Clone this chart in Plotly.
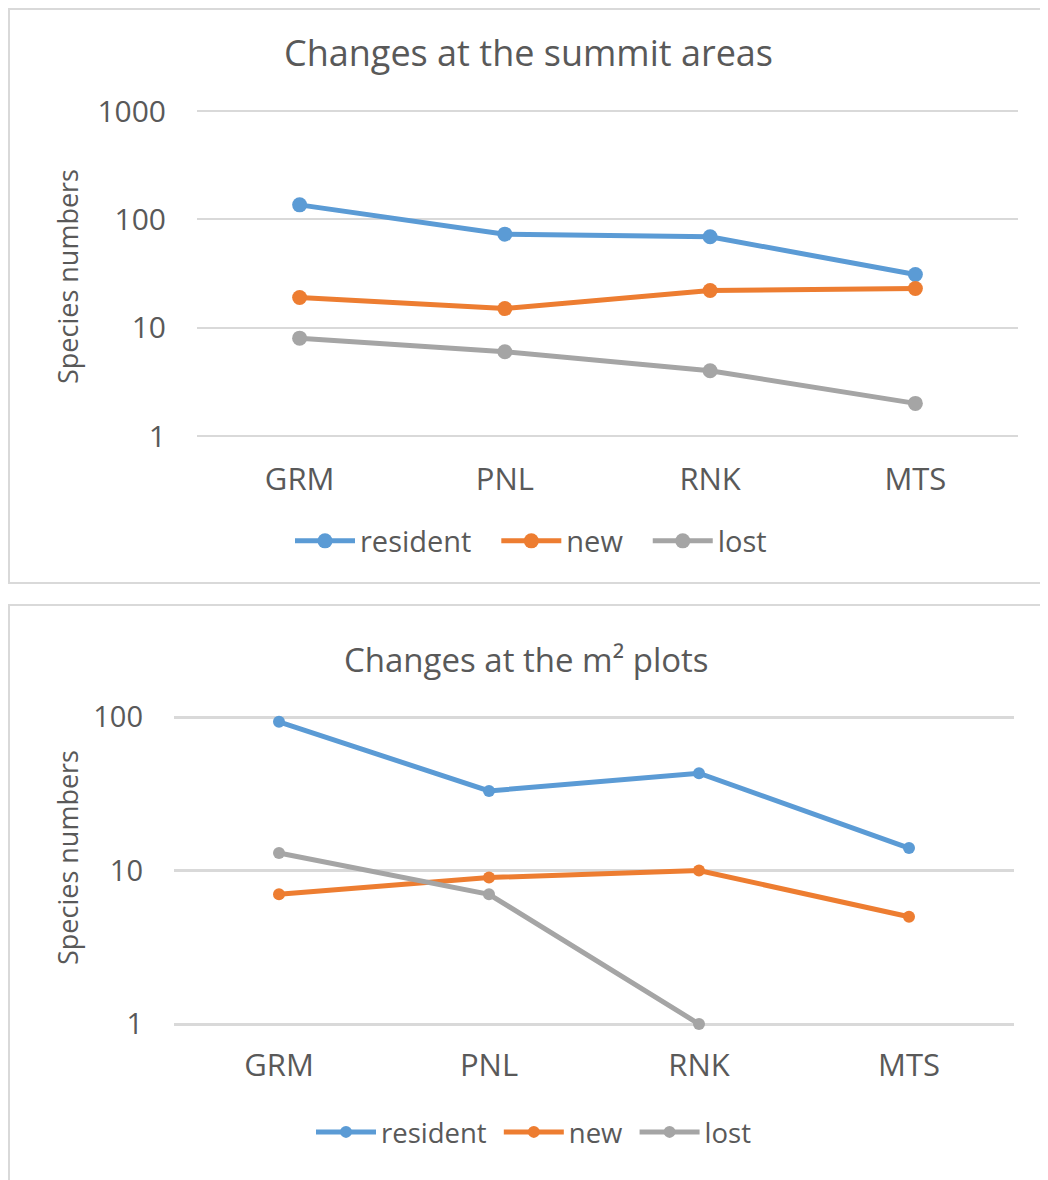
import plotly.graph_objects as go

sites = ["GRM", "PNL", "RNK", "MTS"]
series_names = ["resident", "new", "lost"]
colors = ["#5B9BD5", "#ED7D31", "#A5A5A5"]

summit_resident = [136, 73, 69, 31]
summit_new = [19, 15, 22, 23]
summit_lost = [8, 6, 4, 2]

m2_resident = [93, 33, 43, 14]
m2_new = [7, 9, 10, 5]
m2_lost = [13, 7, 1, None]

OFF = 8  # page body margin
W, H = 1040, 1172
FONT = "Open Sans"
TXT = "#595959"

def px(x):
    return (x - OFF) / W

def py(y):
    return 1 - (y - OFF) / H

fig = go.Figure()

top_vals = [summit_resident, summit_new, summit_lost]
bot_vals = [m2_resident, m2_new, m2_lost]
top_pad = ["\u00a0\u00a0\u2009", "\u00a0\u00a0\u2009", ""]
bot_pad = ["\u00a0", "\u00a0", ""]

for name, col, vals, pad in zip(series_names, colors, top_vals, top_pad):
    fig.add_trace(go.Scatter(x=sites, y=vals, name=name + pad, mode="lines+markers",
                             line=dict(color=col, width=5),
                             marker=dict(color=col, size=15),
                             cliponaxis=False,
                             xaxis="x", yaxis="y", legend="legend"))
for name, col, vals, pad in zip(series_names, colors, bot_vals, bot_pad):
    fig.add_trace(go.Scatter(x=sites, y=vals, name=name + pad, mode="lines+markers",
                             line=dict(color=col, width=5),
                             marker=dict(color=col, size=12),
                             cliponaxis=False,
                             xaxis="x2", yaxis="y2", legend="legend2"))

E = 0.025
# top plot: log 0 at y=436, log 3 at y=111
k1 = (436 - 111) / 3
# bottom plot: log 0 at y=1024, log 2 at y=717
k2 = (1024 - 717) / 2

fig.update_layout(
    width=W, height=H,
    margin=dict(l=0, r=0, t=0, b=0, autoexpand=False),
    paper_bgcolor="white", plot_bgcolor="white",
    showlegend=True,
    xaxis=dict(domain=[px(197), px(1018)], anchor="y", range=[-0.5, 3.5],
               showgrid=False, showline=False, zeroline=False, ticks="",
               tickfont=dict(family=FONT, size=31, color=TXT),
               ticklabelstandoff=int(round(22 - E * k1))),
    yaxis=dict(domain=[py(436 + E * k1), py(111 - E * k1)], anchor="x", type="log",
               range=[-E, 3 + E],
               tickvals=[1, 10, 100, 1000], ticktext=["1", "10", "100", "1000"],
               showgrid=True, gridcolor="#D9D9D9", gridwidth=1.5, zeroline=False,
               showline=False, ticks="", tickfont=dict(family=FONT, size=30, color=TXT),
               ticklabelstandoff=30),
    xaxis2=dict(domain=[px(174), px(1014)], anchor="y2", range=[-0.5, 3.5],
                showgrid=False, showline=False, zeroline=False, ticks="",
                tickfont=dict(family=FONT, size=31, color=TXT),
                ticklabelstandoff=int(round(20 - E * k2))),
    yaxis2=dict(domain=[py(1024 + E * k2), py(717 - E * k2)], anchor="x2", type="log",
                range=[-E, 2 + E],
                tickvals=[1, 10, 100], ticktext=["1", "10", "100"],
                showgrid=True, gridcolor="#D9D9D9", gridwidth=2.5, zeroline=False,
                showline=False, ticks="", tickfont=dict(family=FONT, size=29, color=TXT),
                ticklabelstandoff=30),
    legend=dict(orientation="h", x=px(531), y=py(541), xanchor="center", yanchor="middle",
                font=dict(family=FONT, size=29, color=TXT), itemwidth=60,
                bgcolor="rgba(0,0,0,0)"),
    legend2=dict(orientation="h", x=px(534), y=py(1132), xanchor="center", yanchor="middle",
                 font=dict(family=FONT, size=27.5, color=TXT), itemwidth=60,
                 bgcolor="rgba(0,0,0,0)"),
    shapes=[
        dict(type="rect", xref="paper", yref="paper", x0=px(9), x1=px(1045), y0=py(583), y1=py(9),
             line=dict(color="#D9D9D9", width=2), fillcolor="rgba(0,0,0,0)", layer="below"),
        dict(type="rect", xref="paper", yref="paper", x0=px(9), x1=px(1045), y0=py(1190), y1=py(605),
             line=dict(color="#D9D9D9", width=2), fillcolor="rgba(0,0,0,0)", layer="below"),
    ],
    annotations=[
        dict(text="Changes at the summit areas", x=px(528), y=py(52), xref="paper", yref="paper",
             showarrow=False, xanchor="center", yanchor="middle",
             font=dict(family=FONT, size=36, color=TXT)),
        dict(text="Changes at the m² plots", x=px(526), y=py(660), xref="paper", yref="paper",
             showarrow=False, xanchor="center", yanchor="middle",
             font=dict(family=FONT, size=33, color=TXT)),
        dict(text="Species numbers", x=px(67), y=py(277), xref="paper", yref="paper",
             showarrow=False, textangle=-90, xanchor="center", yanchor="middle",
             font=dict(family=FONT, size=27, color=TXT)),
        dict(text="Species numbers", x=px(67), y=py(858), xref="paper", yref="paper",
             showarrow=False, textangle=-90, xanchor="center", yanchor="middle",
             font=dict(family=FONT, size=27, color=TXT)),
    ],
)

fig.write_html("out.html")
